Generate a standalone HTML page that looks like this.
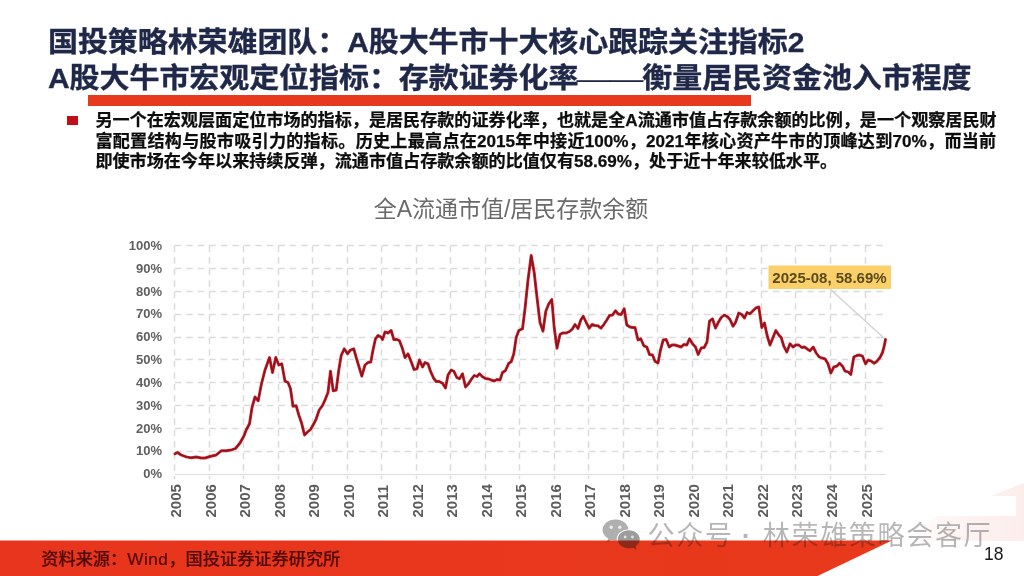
<!DOCTYPE html>
<html lang="zh-CN">
<head>
<meta charset="utf-8">
<title>A股大牛市宏观定位指标</title>
<style>
html,body{margin:0;padding:0;}
body{width:1024px;height:576px;overflow:hidden;background:#fff;position:relative;font-family:"Liberation Sans","Noto Sans CJK SC",sans-serif;}
.abs{position:absolute;white-space:nowrap;}
.title{left:48px;top:24px;font-size:30px;line-height:36.4px;font-weight:bold;color:#1f2848;-webkit-text-stroke:0.35px #1f2848;}
.title span{display:block;transform:scaleY(0.945);transform-origin:0 32px;}
.title .l1{letter-spacing:-0.08px;}
.title .l2{letter-spacing:-0.07px;}
.title i{display:inline-block;font-style:normal;font-weight:500;-webkit-text-stroke:0.25px #1f2848;letter-spacing:0;margin:0 2.3px 0 1.6px;transform:scaleX(1.11);}
.redbar{left:88px;top:95.4px;width:663.4px;height:10.8px;background:#e7391d;}
.bullet{left:67px;top:115.8px;width:10.6px;height:9.6px;background:#c00f16;}
.body{left:95.4px;top:111.4px;width:900.8px;font-size:17.1px;line-height:20.55px;font-weight:bold;color:#0d0d0d;-webkit-text-stroke:0.25px #0d0d0d;}
.body div{text-align:justify;text-align-last:justify;text-justify:inter-character;}
.body div.last{text-align:left;text-align-last:left;}
.ctitle{left:0;width:1022px;text-align:center;top:193px;font-size:23px;line-height:32px;color:#6a6a6a;}
.footer{left:0;top:541px;width:1024px;height:35px;}
.src{left:41.3px;top:548px;font-size:17.2px;line-height:22px;font-weight:500;color:#520c08;-webkit-text-stroke:0.2px #520c08;}
.src span{letter-spacing:0.5px;}
.pageno{left:984px;top:543.2px;font-size:17.5px;line-height:22px;color:#1a1a1a;}
.wm{left:647.5px;top:516.6px;font-size:27.1px;line-height:38px;letter-spacing:1.6px;color:rgba(20,20,22,0.31);}
.wm b{font-weight:bold;margin-left:-1.0px;margin-right:1.3px;}
svg{position:absolute;left:0;top:0;}
</style>
</head>
<body>
<svg width="1024" height="576" viewBox="0 0 1024 576">
  <defs>
    <linearGradient id="rg" x1="0" y1="0" x2="1" y2="0">
      <stop offset="0" stop-color="#e8351d"/>
      <stop offset="1" stop-color="#e8391c"/>
    </linearGradient>
    <linearGradient id="pk" gradientUnits="userSpaceOnUse" x1="900" y1="0" x2="1024" y2="0">
      <stop offset="0" stop-color="#ffffff"/>
      <stop offset="0.45" stop-color="#fdf4f3"/>
      <stop offset="1" stop-color="#fcedeb"/>
    </linearGradient>
  </defs>
  <g fill="url(#pk)">
    <polygon points="1024,483 991,496 1024,496"/>
    <rect x="1016" y="496" width="8" height="20"/>
    <polygon points="938,516 1024,516 1024,541 900,541"/>
  </g>
  <polygon points="0,540.6 892,540.6 817.5,576 0,576" fill="url(#rg)"/>
  <g stroke="#dbdbdb" stroke-width="1.5" stroke-dasharray="6.5 5" fill="none">
    <line x1="174.8" y1="245.5" x2="886.0" y2="245.5"/>
<line x1="174.8" y1="268.5" x2="886.0" y2="268.5"/>
<line x1="174.8" y1="291.5" x2="886.0" y2="291.5"/>
<line x1="174.8" y1="314.5" x2="886.0" y2="314.5"/>
<line x1="174.8" y1="337.5" x2="886.0" y2="337.5"/>
<line x1="174.8" y1="359.5" x2="886.0" y2="359.5"/>
<line x1="174.8" y1="382.5" x2="886.0" y2="382.5"/>
<line x1="174.8" y1="405.5" x2="886.0" y2="405.5"/>
<line x1="174.8" y1="428.5" x2="886.0" y2="428.5"/>
<line x1="174.8" y1="451.5" x2="886.0" y2="451.5"/>
<line x1="174.5" y1="245.75" x2="174.5" y2="479.1"/>
<line x1="209.5" y1="245.75" x2="209.5" y2="479.1"/>
<line x1="243.5" y1="245.75" x2="243.5" y2="479.1"/>
<line x1="278.5" y1="245.75" x2="278.5" y2="479.1"/>
<line x1="312.5" y1="245.75" x2="312.5" y2="479.1"/>
<line x1="347.5" y1="245.75" x2="347.5" y2="479.1"/>
<line x1="381.5" y1="245.75" x2="381.5" y2="479.1"/>
<line x1="416.5" y1="245.75" x2="416.5" y2="479.1"/>
<line x1="450.5" y1="245.75" x2="450.5" y2="479.1"/>
<line x1="485.5" y1="245.75" x2="485.5" y2="479.1"/>
<line x1="519.5" y1="245.75" x2="519.5" y2="479.1"/>
<line x1="554.5" y1="245.75" x2="554.5" y2="479.1"/>
<line x1="588.5" y1="245.75" x2="588.5" y2="479.1"/>
<line x1="623.5" y1="245.75" x2="623.5" y2="479.1"/>
<line x1="657.5" y1="245.75" x2="657.5" y2="479.1"/>
<line x1="692.5" y1="245.75" x2="692.5" y2="479.1"/>
<line x1="726.5" y1="245.75" x2="726.5" y2="479.1"/>
<line x1="761.5" y1="245.75" x2="761.5" y2="479.1"/>
<line x1="795.5" y1="245.75" x2="795.5" y2="479.1"/>
<line x1="830.5" y1="245.75" x2="830.5" y2="479.1"/>
<line x1="865.5" y1="245.75" x2="865.5" y2="479.1"/>
  </g>
  <line x1="174.8" y1="474.5" x2="886.0" y2="474.5" stroke="#dedede" stroke-width="1.1"/>
  <g font-family="'Liberation Sans',sans-serif" font-weight="bold" font-size="13" fill="#606060">
    <text x="162" y="249.85" text-anchor="end">100%</text>
<text x="162" y="272.69" text-anchor="end">90%</text>
<text x="162" y="295.52" text-anchor="end">80%</text>
<text x="162" y="318.36" text-anchor="end">70%</text>
<text x="162" y="341.19" text-anchor="end">60%</text>
<text x="162" y="364.03" text-anchor="end">50%</text>
<text x="162" y="386.86" text-anchor="end">40%</text>
<text x="162" y="409.70" text-anchor="end">30%</text>
<text x="162" y="432.53" text-anchor="end">20%</text>
<text x="162" y="455.37" text-anchor="end">10%</text>
<text x="162" y="478.20" text-anchor="end">0%</text>
  </g>
  <g font-family="'Liberation Sans',sans-serif" font-weight="bold" font-size="15.1" fill="#5c5c5c">
    <text transform="translate(181.30,517.6) rotate(-90)">2005</text>
<text transform="translate(215.81,517.6) rotate(-90)">2006</text>
<text transform="translate(250.32,517.6) rotate(-90)">2007</text>
<text transform="translate(284.83,517.6) rotate(-90)">2008</text>
<text transform="translate(319.34,517.6) rotate(-90)">2009</text>
<text transform="translate(353.85,517.6) rotate(-90)">2010</text>
<text transform="translate(388.36,517.6) rotate(-90)">2011</text>
<text transform="translate(422.87,517.6) rotate(-90)">2012</text>
<text transform="translate(457.38,517.6) rotate(-90)">2013</text>
<text transform="translate(491.89,517.6) rotate(-90)">2014</text>
<text transform="translate(526.40,517.6) rotate(-90)">2015</text>
<text transform="translate(560.91,517.6) rotate(-90)">2016</text>
<text transform="translate(595.42,517.6) rotate(-90)">2017</text>
<text transform="translate(629.93,517.6) rotate(-90)">2018</text>
<text transform="translate(664.44,517.6) rotate(-90)">2019</text>
<text transform="translate(698.95,517.6) rotate(-90)">2020</text>
<text transform="translate(733.46,517.6) rotate(-90)">2021</text>
<text transform="translate(767.97,517.6) rotate(-90)">2022</text>
<text transform="translate(802.48,517.6) rotate(-90)">2023</text>
<text transform="translate(836.99,517.6) rotate(-90)">2024</text>
<text transform="translate(871.50,517.6) rotate(-90)">2025</text>
  </g>
  <line x1="830" y1="289" x2="885" y2="339" stroke="#d2d2d4" stroke-width="1.3"/>
  <polyline points="175.0,453.8 177.5,452.5 181.2,455.0 186.2,456.8 191.2,457.8 196.2,457.0 201.2,458.0 205.0,458.0 210.0,456.5 216.2,455.0 221.2,450.8 226.2,450.8 231.2,450.0 235.5,448.5 240.0,443.0 243.8,436.2 246.2,430.0 249.5,423.8 252.0,407.5 255.0,397.0 258.2,400.8 261.2,385.0 265.0,370.0 269.5,357.5 272.5,372.5 275.8,357.5 278.8,365.0 281.8,363.8 285.0,381.2 288.0,382.5 290.5,388.8 293.0,406.2 296.2,405.8 298.8,415.0 301.8,423.8 304.5,435.0 307.5,432.0 310.5,429.5 313.8,423.8 316.2,418.8 319.2,410.0 322.5,405.5 325.5,398.8 328.0,392.5 330.5,371.2 333.2,390.8 336.2,390.0 338.8,370.0 341.2,355.5 344.2,348.8 347.5,353.8 350.5,350.0 353.8,348.8 356.2,357.5 359.2,367.5 361.8,376.2 365.0,365.0 368.0,362.5 370.8,362.0 373.0,350.0 375.5,338.8 378.0,335.5 381.0,337.0 382.5,339.5 385.0,332.0 388.0,333.0 391.2,330.5 393.8,339.5 396.8,339.5 399.5,340.8 402.5,348.8 405.0,357.5 408.0,353.8 411.0,361.2 414.0,369.5 417.0,368.8 419.5,360.0 422.5,367.0 425.0,362.5 428.0,363.8 430.5,371.2 433.5,378.0 436.2,381.5 439.2,381.5 442.5,383.2 445.5,388.0 448.0,375.0 451.2,370.0 453.8,371.2 456.8,377.5 459.5,378.8 462.5,373.8 465.5,387.0 468.5,383.8 471.2,379.5 474.2,375.5 477.0,376.5 479.5,373.8 482.5,376.8 485.5,378.5 488.8,379.0 491.2,380.0 494.2,381.0 497.0,379.5 500.0,380.0 502.5,372.5 505.5,370.5 508.8,363.2 511.2,361.8 513.8,353.8 516.2,337.5 518.8,330.5 522.5,328.8 525.0,308.8 528.0,280.0 531.2,255.5 534.2,272.5 537.0,297.5 540.0,322.5 543.0,331.2 545.8,311.2 548.8,303.8 551.8,299.5 554.2,327.5 557.0,348.2 560.0,334.5 562.5,333.0 566.2,333.0 569.5,331.5 572.5,328.8 575.0,324.5 578.0,328.5 580.8,320.0 583.2,316.2 586.2,322.5 589.2,328.2 592.0,324.5 595.0,325.5 598.0,325.8 601.0,328.2 603.8,324.5 606.8,320.0 609.5,315.5 612.5,315.0 615.5,310.8 618.2,314.0 621.2,314.5 624.2,308.8 626.8,325.0 630.0,327.0 632.5,327.5 635.0,327.5 638.0,340.0 640.8,338.8 643.8,345.8 646.8,347.0 649.5,354.5 652.5,355.0 655.0,361.2 658.0,363.0 660.5,350.0 663.2,340.0 666.2,339.5 669.2,347.0 672.0,345.0 675.0,345.0 678.0,346.0 681.2,347.0 683.8,344.5 686.8,345.0 689.5,338.8 692.5,343.8 695.5,347.0 698.2,354.5 701.2,348.0 704.2,347.5 707.0,342.0 709.5,321.2 712.5,318.8 715.5,328.0 718.2,322.5 721.2,317.5 724.2,315.0 727.5,316.8 730.0,319.5 733.0,326.2 735.5,322.5 738.8,313.0 741.8,314.5 744.5,318.0 747.0,312.5 750.0,313.8 753.0,310.8 755.8,308.0 758.8,307.0 761.8,327.5 764.5,323.0 767.0,335.0 770.0,345.0 773.0,337.5 775.8,330.5 778.8,335.0 781.2,337.5 783.8,346.2 786.8,352.0 790.0,343.8 793.0,347.0 795.8,345.0 798.8,345.0 801.8,347.5 804.5,347.0 807.5,349.2 810.0,350.8 813.2,347.0 816.2,353.0 819.2,357.0 822.0,358.0 825.0,358.8 828.0,363.8 830.8,373.0 833.8,367.0 836.8,366.2 839.5,363.2 842.5,366.2 845.0,371.2 848.0,371.8 850.8,374.5 853.8,357.0 856.8,355.5 859.5,355.0 862.5,356.2 865.5,363.8 868.2,360.0 871.2,361.2 874.2,363.2 877.0,361.2 880.0,357.5 882.5,352.5 884.2,346.2 885.5,339.5" fill="none" stroke="#d5262b" stroke-width="2.9" stroke-linejoin="round" stroke-linecap="round"/>
  <polyline points="175.0,453.8 177.5,452.5 181.2,455.0 186.2,456.8 191.2,457.8 196.2,457.0 201.2,458.0 205.0,458.0 210.0,456.5 216.2,455.0 221.2,450.8 226.2,450.8 231.2,450.0 235.5,448.5 240.0,443.0 243.8,436.2 246.2,430.0 249.5,423.8 252.0,407.5 255.0,397.0 258.2,400.8 261.2,385.0 265.0,370.0 269.5,357.5 272.5,372.5 275.8,357.5 278.8,365.0 281.8,363.8 285.0,381.2 288.0,382.5 290.5,388.8 293.0,406.2 296.2,405.8 298.8,415.0 301.8,423.8 304.5,435.0 307.5,432.0 310.5,429.5 313.8,423.8 316.2,418.8 319.2,410.0 322.5,405.5 325.5,398.8 328.0,392.5 330.5,371.2 333.2,390.8 336.2,390.0 338.8,370.0 341.2,355.5 344.2,348.8 347.5,353.8 350.5,350.0 353.8,348.8 356.2,357.5 359.2,367.5 361.8,376.2 365.0,365.0 368.0,362.5 370.8,362.0 373.0,350.0 375.5,338.8 378.0,335.5 381.0,337.0 382.5,339.5 385.0,332.0 388.0,333.0 391.2,330.5 393.8,339.5 396.8,339.5 399.5,340.8 402.5,348.8 405.0,357.5 408.0,353.8 411.0,361.2 414.0,369.5 417.0,368.8 419.5,360.0 422.5,367.0 425.0,362.5 428.0,363.8 430.5,371.2 433.5,378.0 436.2,381.5 439.2,381.5 442.5,383.2 445.5,388.0 448.0,375.0 451.2,370.0 453.8,371.2 456.8,377.5 459.5,378.8 462.5,373.8 465.5,387.0 468.5,383.8 471.2,379.5 474.2,375.5 477.0,376.5 479.5,373.8 482.5,376.8 485.5,378.5 488.8,379.0 491.2,380.0 494.2,381.0 497.0,379.5 500.0,380.0 502.5,372.5 505.5,370.5 508.8,363.2 511.2,361.8 513.8,353.8 516.2,337.5 518.8,330.5 522.5,328.8 525.0,308.8 528.0,280.0 531.2,255.5 534.2,272.5 537.0,297.5 540.0,322.5 543.0,331.2 545.8,311.2 548.8,303.8 551.8,299.5 554.2,327.5 557.0,348.2 560.0,334.5 562.5,333.0 566.2,333.0 569.5,331.5 572.5,328.8 575.0,324.5 578.0,328.5 580.8,320.0 583.2,316.2 586.2,322.5 589.2,328.2 592.0,324.5 595.0,325.5 598.0,325.8 601.0,328.2 603.8,324.5 606.8,320.0 609.5,315.5 612.5,315.0 615.5,310.8 618.2,314.0 621.2,314.5 624.2,308.8 626.8,325.0 630.0,327.0 632.5,327.5 635.0,327.5 638.0,340.0 640.8,338.8 643.8,345.8 646.8,347.0 649.5,354.5 652.5,355.0 655.0,361.2 658.0,363.0 660.5,350.0 663.2,340.0 666.2,339.5 669.2,347.0 672.0,345.0 675.0,345.0 678.0,346.0 681.2,347.0 683.8,344.5 686.8,345.0 689.5,338.8 692.5,343.8 695.5,347.0 698.2,354.5 701.2,348.0 704.2,347.5 707.0,342.0 709.5,321.2 712.5,318.8 715.5,328.0 718.2,322.5 721.2,317.5 724.2,315.0 727.5,316.8 730.0,319.5 733.0,326.2 735.5,322.5 738.8,313.0 741.8,314.5 744.5,318.0 747.0,312.5 750.0,313.8 753.0,310.8 755.8,308.0 758.8,307.0 761.8,327.5 764.5,323.0 767.0,335.0 770.0,345.0 773.0,337.5 775.8,330.5 778.8,335.0 781.2,337.5 783.8,346.2 786.8,352.0 790.0,343.8 793.0,347.0 795.8,345.0 798.8,345.0 801.8,347.5 804.5,347.0 807.5,349.2 810.0,350.8 813.2,347.0 816.2,353.0 819.2,357.0 822.0,358.0 825.0,358.8 828.0,363.8 830.8,373.0 833.8,367.0 836.8,366.2 839.5,363.2 842.5,366.2 845.0,371.2 848.0,371.8 850.8,374.5 853.8,357.0 856.8,355.5 859.5,355.0 862.5,356.2 865.5,363.8 868.2,360.0 871.2,361.2 874.2,363.2 877.0,361.2 880.0,357.5 882.5,352.5 884.2,346.2 885.5,339.5" fill="none" stroke="#8c1420" stroke-width="1.6" stroke-linejoin="round" stroke-linecap="round"/>
  <rect x="768.5" y="265.5" width="122.5" height="23.5" fill="#fad06b"/>
  <text x="829.5" y="283.2" text-anchor="middle" font-family="'Liberation Sans',sans-serif" font-weight="bold" font-size="15" fill="#5b4a1c">2025-08, 58.69%</text>
  <mask id="mk" maskUnits="userSpaceOnUse" x="600" y="515" width="45" height="40">
    <rect x="600" y="515" width="45" height="40" fill="#fff"/>
    <path d="M628.8 530.300c6.100 0 11 4 11 9 0 2.900-1.700 5.500-4.300 7.100l1 3.300-3.800-2c-1.200.400-2.500.600-3.900.600-6.100 0-11-4-11-9s4.900-9 11-9z" fill="#000" stroke="#000" stroke-width="2.2"/>
  </mask>
  <g>
    <path mask="url(#mk)" d="M615.5 519.5c7.2 0 13 4.7 13 10.5s-5.800 10.500-13 10.500c-1.500 0-2.900-.200-4.200-.600l-4.300 2.300 1.200-3.800c-3.500-1.900-5.700-5-5.700-8.400 0-5.800 5.800-10.500 13-10.500z" fill="rgba(20,20,22,0.34)"/>
    <circle cx="611.2" cy="527.3" r="1.7" fill="rgba(255,255,255,0.75)"/>
    <circle cx="619.8" cy="527.3" r="1.7" fill="rgba(255,255,255,0.75)"/>
    <path d="M628.8 530.300c6.100 0 11 4 11 9 0 2.900-1.700 5.500-4.300 7.100l1 3.300-3.800-2c-1.200.400-2.500.600-3.900.600-6.100 0-11-4-11-9s4.900-9 11-9z" fill="rgba(20,20,22,0.42)"/>
    <circle cx="625.2" cy="537" r="1.4" fill="rgba(255,255,255,0.7)"/>
    <circle cx="632.4" cy="537" r="1.4" fill="rgba(255,255,255,0.7)"/>
  </g>
</svg>
<div class="abs title"><span class="l1">国投策略林荣雄团队：A股大牛市十大核心跟踪关注指标2</span><span class="l2">A股大牛市宏观定位指标：存款证券化率<i>——</i>衡量居民资金池入市程度</span></div>
<div class="abs redbar"></div>
<div class="abs bullet"></div>
<div class="abs body"><div>另一个在宏观层面定位市场的指标，是居民存款的证券化率，也就是全A流通市值占存款余额的比例，是一个观察居民财</div><div>富配置结构与股市吸引力的指标。历史上最高点在2015年中接近100%，2021年核心资产牛市的顶峰达到70%，而当前</div><div class="last">即使市场在今年以来持续反弹，流通市值占存款余额的比值仅有58.69%，处于近十年来较低水平。</div></div>
<div class="abs ctitle">全A流通市值/居民存款余额</div>
<div class="abs src">资料来源：<span>Wind</span>，国投证券证券研究所</div>
<div class="abs wm">公众号 <b>·</b> 林荣雄策略会客厅</div>
<div class="abs pageno">18</div>
</body>
</html>
